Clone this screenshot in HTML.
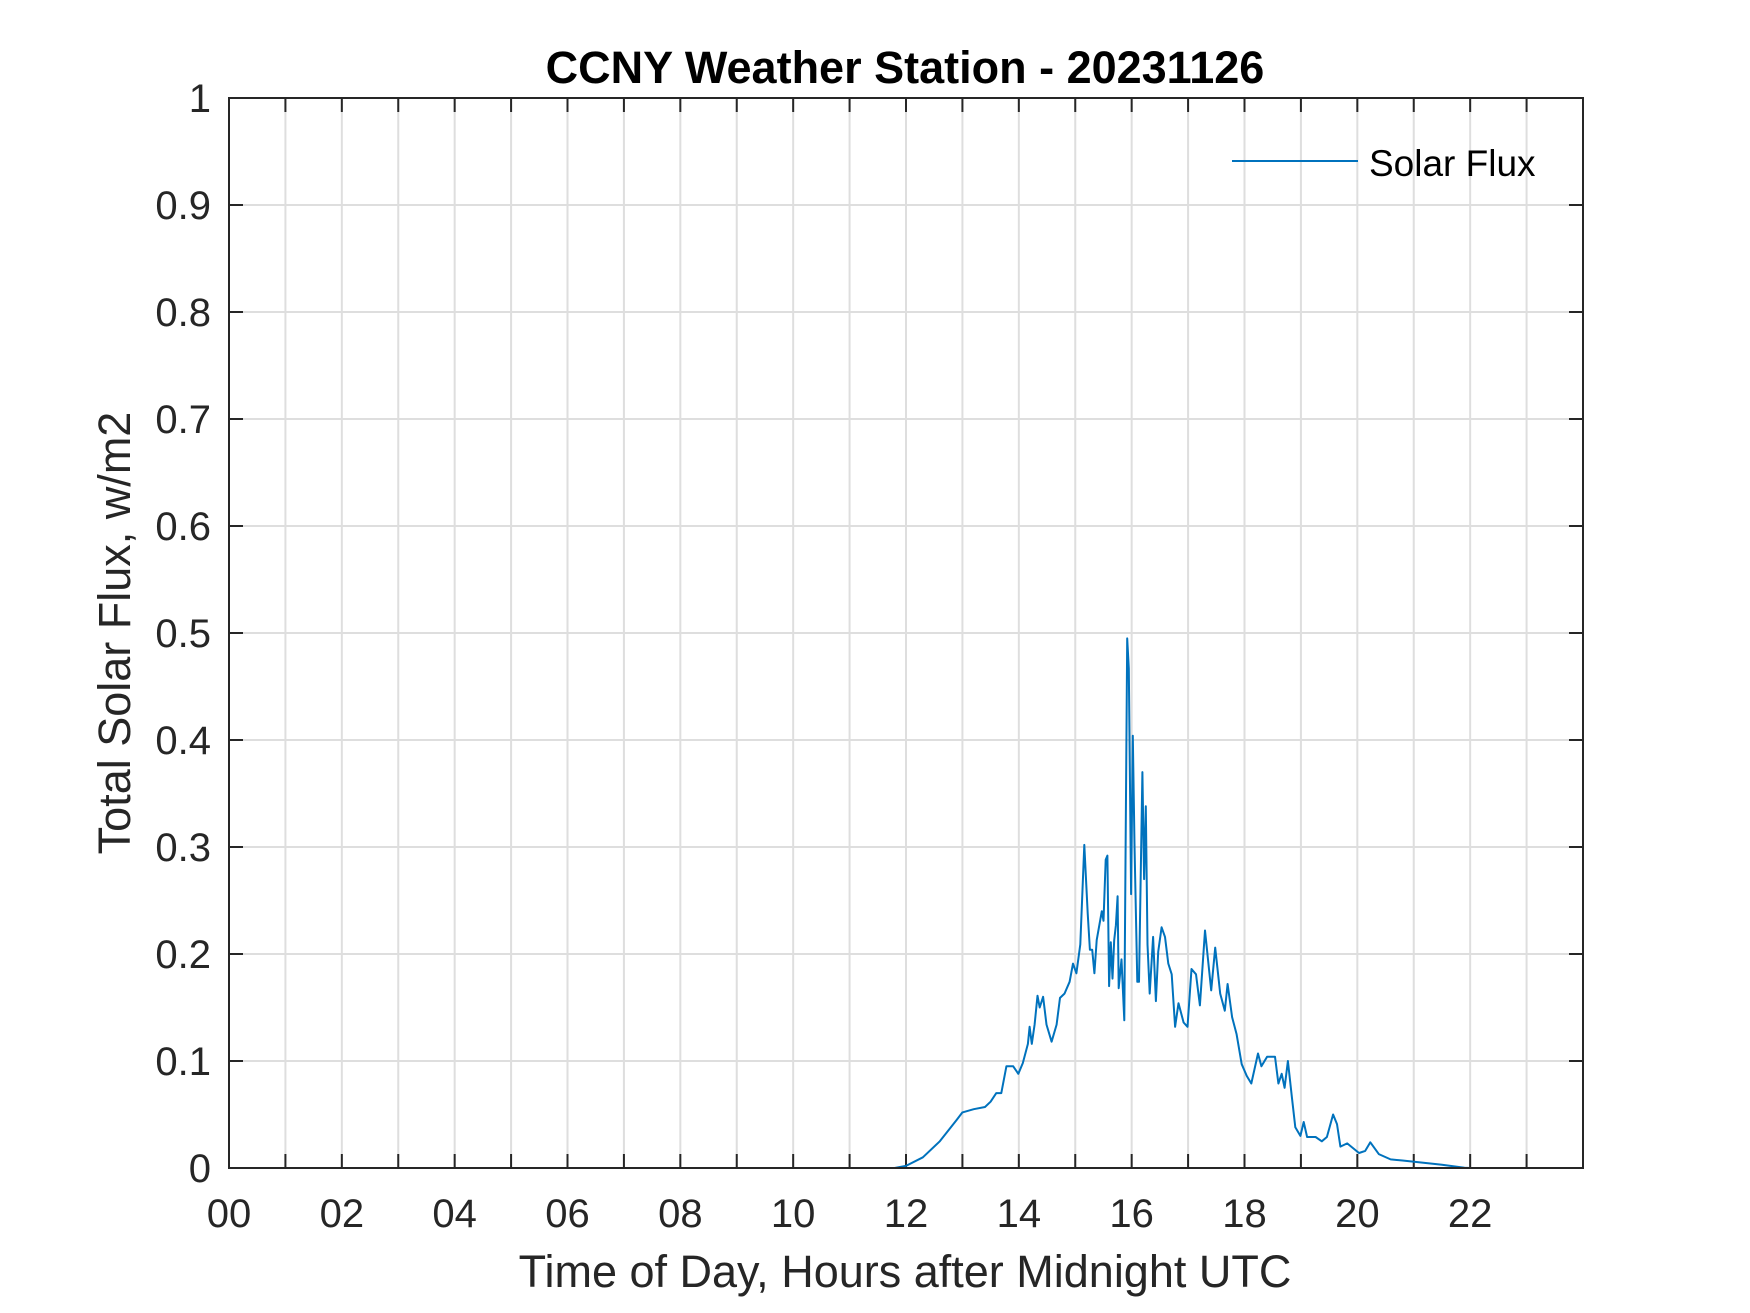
<!DOCTYPE html>
<html><head><meta charset="utf-8"><style>
body{margin:0;background:#fff;}
svg{display:block;font-family:"Liberation Sans",Arial,sans-serif;}
</style></head><body>
<svg id="chart" width="1750" height="1313" viewBox="0 0 1750 1313">
<rect width="1750" height="1313" fill="#fff"/>
<g id="grid"></g>
<g id="ticks"></g>
<path id="series" fill="none" stroke="#0072BD" stroke-width="2" stroke-linejoin="round"/>
<rect x="229" y="98" width="1354" height="1070" fill="none" stroke="#262626" stroke-width="2"/>
<g id="labels" font-size="40" fill="#262626"></g>
<text x="905" y="83" text-anchor="middle" font-size="45" font-weight="bold" fill="#000">CCNY Weather Station - 20231126</text>
<text x="905" y="1287" text-anchor="middle" font-size="45" fill="#262626">Time of Day, Hours after Midnight UTC</text>
<text transform="translate(130,633) rotate(-90)" text-anchor="middle" font-size="45" fill="#262626">Total Solar Flux, w/m2</text>
<g>
<line x1="1232" y1="161" x2="1358" y2="161" stroke="#0072BD" stroke-width="2"/>
<text x="1369" y="176" font-size="37" fill="#000">Solar Flux</text>
</g>
</svg>
<script>
const hours=[0,11.8,12.0,12.3,12.6,12.9,13.0,13.2,13.4,13.5,13.6,13.69,13.78,13.9,13.99,14.07,14.16,14.19,14.23,14.28,14.33,14.37,14.43,14.49,14.58,14.67,14.73,14.81,14.9,14.96,15.02,15.09,15.16,15.22,15.26,15.3,15.34,15.38,15.47,15.5,15.54,15.57,15.6,15.63,15.66,15.69,15.72,15.75,15.77,15.82,15.87,15.92,15.95,15.99,16.02,16.05,16.1,16.13,16.19,16.22,16.25,16.28,16.32,16.38,16.43,16.47,16.53,16.59,16.65,16.71,16.77,16.83,16.92,16.99,17.06,17.14,17.21,17.3,17.41,17.48,17.57,17.65,17.7,17.78,17.86,17.95,18.04,18.12,18.24,18.3,18.4,18.54,18.6,18.66,18.71,18.77,18.84,18.9,18.99,19.05,19.11,19.26,19.37,19.46,19.57,19.64,19.7,19.82,20.03,20.14,20.23,20.38,20.59,20.8,21.5,21.9,22.0,23.99];
const flux=[0,0,0.002,0.01,0.025,0.045,0.052,0.055,0.057,0.062,0.07,0.07,0.095,0.095,0.088,0.098,0.116,0.132,0.116,0.134,0.161,0.15,0.16,0.134,0.118,0.134,0.159,0.163,0.174,0.191,0.182,0.209,0.302,0.238,0.204,0.204,0.182,0.213,0.24,0.231,0.288,0.292,0.17,0.211,0.177,0.213,0.227,0.254,0.168,0.195,0.138,0.495,0.467,0.256,0.404,0.302,0.174,0.174,0.37,0.27,0.338,0.209,0.163,0.216,0.156,0.202,0.225,0.216,0.191,0.181,0.132,0.154,0.136,0.132,0.186,0.181,0.152,0.222,0.166,0.206,0.163,0.147,0.172,0.141,0.125,0.097,0.086,0.079,0.107,0.095,0.104,0.104,0.079,0.088,0.075,0.1,0.066,0.038,0.03,0.043,0.029,0.029,0.025,0.029,0.05,0.041,0.02,0.023,0.014,0.016,0.024,0.013,0.008,0.007,0.003,0.0003,0,0];
const xTickLabels=["00","02","04","06","08","10","12","14","16","18","20","22"];
const yTickLabels=["0","0.1","0.2","0.3","0.4","0.5","0.6","0.7","0.8","0.9","1"];
const X0=229,X1=1583,Y0=1168,Y1=98;
const xs=h=>X0+(X1-X0)*h/24;
const ys=v=>Y0-(Y0-Y1)*v;
const NS="http://www.w3.org/2000/svg";
const grid=document.getElementById('grid'),ticks=document.getElementById('ticks'),labels=document.getElementById('labels');
function mk(tag,attrs,parent){const e=document.createElementNS(NS,tag);for(const k in attrs)e.setAttribute(k,attrs[k]);parent.appendChild(e);return e;}
for(let h=1;h<24;h++){
  const l=mk('line',{x1:xs(h),x2:xs(h),y1:Y1,y2:Y0,stroke:'#dedede','stroke-width':2},grid);
  
  
  const t1=mk('line',{x1:xs(h),x2:xs(h),y1:Y0,y2:Y0-14,stroke:'#262626','stroke-width':2},ticks);
  
  
  const t2=mk('line',{x1:xs(h),x2:xs(h),y1:Y1,y2:Y1+14,stroke:'#262626','stroke-width':2},ticks);
  
  
}
yTickLabels.forEach((s,i)=>{
  const v=i/10,y=ys(v);
  if(i>0&&i<10){
    const l=mk('line',{x1:X0,x2:X1,y1:y,y2:y,stroke:'#dedede','stroke-width':2},grid);
    
    
    const t1=mk('line',{x1:X0,x2:X0+14,y1:y,y2:y,stroke:'#262626','stroke-width':2},ticks);
    
    
    const t2=mk('line',{x1:X1,x2:X1-14,y1:y,y2:y,stroke:'#262626','stroke-width':2},ticks);
    
    
  }
  const t=mk('text',{x:211,y:y+14,'text-anchor':'end'},labels);
  t.textContent=s;
  
  
});
xTickLabels.forEach((s,i)=>{
  const t=mk('text',{x:xs(i*2),y:1227,'text-anchor':'middle'},labels);
  t.textContent=s;
  
  
});
document.getElementById('series').setAttribute('d',hours.map((h,i)=>(i?'L':'M')+xs(h).toFixed(1)+','+ys(flux[i]).toFixed(1)).join(''));
</script>
</body></html>
